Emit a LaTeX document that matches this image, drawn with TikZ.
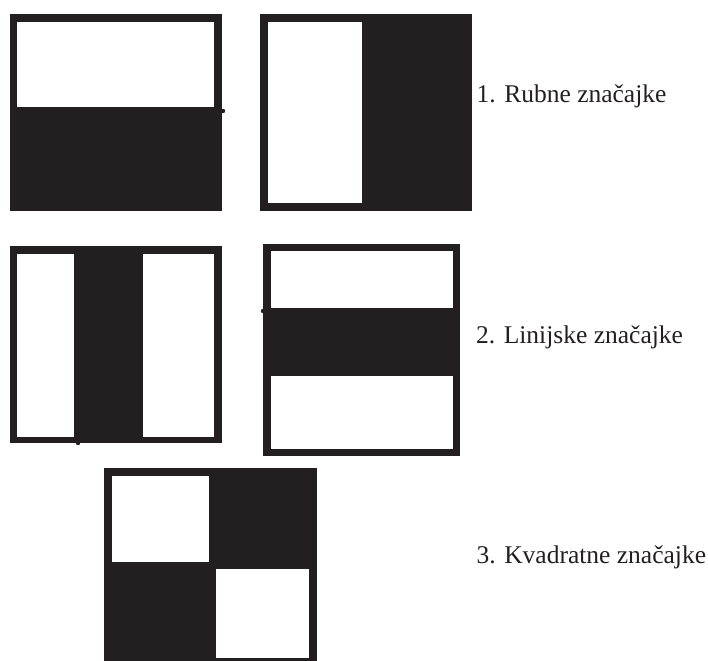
\documentclass[tikz,border=0pt]{standalone}
\usepackage{fontspec}
\setmainfont{Liberation Serif}
\definecolor{ink}{HTML}{231F20}
\begin{document}
\begin{tikzpicture}[x=1pt,y=-1pt,
  dark/.style={fill=ink},
  light/.style={fill=white},
  lbl/.style={anchor=base west,inner sep=0pt,font=\fontsize{25.5}{30}\selectfont,text=ink}]
\useasboundingbox (0,0) rectangle (708,660);
% 1. edge features
\fill[dark] (10,14) rectangle (221.7,211);
\fill[light] (17.3,22) rectangle (214.3,107.3);
\fill[dark] (223,111) circle (2.2);
\fill[dark] (260,14) rectangle (472,211);
\fill[light] (267.7,22) rectangle (362.3,203.3);
% 2. line features
\fill[dark] (10,246) rectangle (221.7,443.3);
\fill[light] (17.3,254) rectangle (74,436.7);
\fill[light] (142.7,254) rectangle (214.3,436.7);
\fill[dark] (78,443) circle (2.2);
\fill[dark] (263.3,244) rectangle (460,456);
\fill[light] (270.7,251.3) rectangle (452.7,307.7);
\fill[light] (270.7,376) rectangle (452.7,449);
\fill[dark] (263,311) circle (2.2);
% 3. square features
\fill[dark] (104.3,468.3) rectangle (316.7,662);
\fill[light] (111.7,475.7) rectangle (209,562.3);
\fill[light] (215.7,569) rectangle (309.3,658.3);
% labels
\node[lbl] (t1) at (476.5,103) {1. Rubne značajke};
\node[lbl] (t2) at (476,343) {2. Linijske značajke};
\node[lbl] (t3) at (476.5,563) {3. Kvadratne značajke};
\end{tikzpicture}
\end{document}
